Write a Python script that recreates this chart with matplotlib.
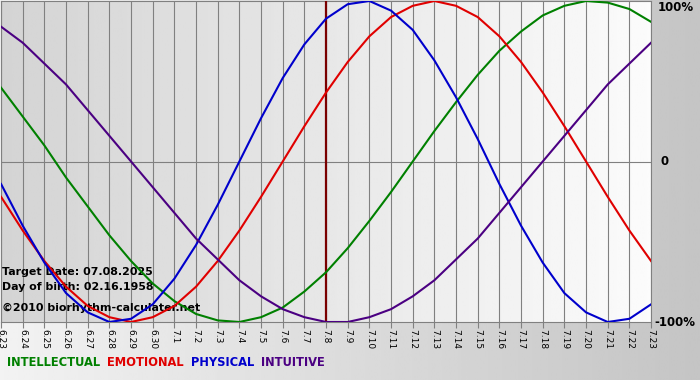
import matplotlib
matplotlib.use('Agg')
import matplotlib.pyplot as plt
import numpy as np

# one tick per day, 6.23 .. 7.23
day_labels = ['6.23', '6.24', '6.25', '6.26', '6.27', '6.28', '6.29', '6.30',
              '7.1', '7.2', '7.3', '7.4', '7.5', '7.6', '7.7', '7.8', '7.9', '7.10',
              '7.11', '7.12', '7.13', '7.14', '7.15', '7.16', '7.17', '7.18', '7.19',
              '7.20', '7.21', '7.22', '7.23']

# values, -1 .. 1
intellectual = [0.46, 0.28, 0.10, -0.10, -0.28, -0.46, -0.62, -0.76, -0.87, -0.95, -0.99,
                -1.00, -0.97, -0.91, -0.81, -0.69, -0.54, -0.37, -0.19, 0.00, 0.19, 0.37,
                0.54, 0.69, 0.81, 0.91, 0.97, 1.00, 0.99, 0.95, 0.87]
emotional = [-0.22, -0.43, -0.62, -0.78, -0.90, -0.97, -1.00, -0.97, -0.90, -0.78, -0.62,
             -0.43, -0.22, 0.00, 0.22, 0.43, 0.62, 0.78, 0.90, 0.97, 1.00, 0.97, 0.90,
             0.78, 0.62, 0.43, 0.22, 0.00, -0.22, -0.43, -0.62]
physical = [-0.14, -0.40, -0.63, -0.82, -0.94, -1.00, -0.98, -0.89, -0.73, -0.52, -0.27,
            0.00, 0.27, 0.52, 0.73, 0.89, 0.98, 1.00, 0.94, 0.82, 0.63, 0.40, 0.14,
            -0.14, -0.40, -0.63, -0.82, -0.94, -1.00, -0.98, -0.89]
intuitive = [0.84, 0.74, 0.61, 0.48, 0.32, 0.16, 0.00, -0.16, -0.32, -0.48, -0.61, -0.74,
             -0.84, -0.92, -0.97, -1.00, -1.00, -0.97, -0.92, -0.84, -0.74, -0.61, -0.48,
             -0.32, -0.16, 0.00, 0.16, 0.32, 0.48, 0.61, 0.74]

target_label = '7.8'
y_labels = ['100%', '0', '-100%']

series = [
    ('INTELLECTUAL', intellectual, '#008000'),
    ('EMOTIONAL', emotional, '#e00000'),
    ('PHYSICAL', physical, '#0000cc'),
    ('INTUITIVE', intuitive, '#4b0082'),
]

plt.rcParams['font.family'] = 'DejaVu Sans'

fig = plt.figure(figsize=(7, 3.8), dpi=100)

# grey gradient behind everything
bg = fig.add_axes([0, 0, 1, 1])
bg.imshow(np.linspace(0.95, 0.77, 256)[None, :], cmap='gray', vmin=0, vmax=1,
          aspect='auto', extent=[0, 1, 0, 1])
bg.set_axis_off()
bg.set_zorder(-10)

ax = fig.add_axes([0.0015, 58 / 380, 650 / 700, 321 / 380])
ax.patch.set_visible(False)
x = np.arange(len(day_labels))
ax.imshow(np.linspace(0.83, 0.985, 256)[None, :], cmap='gray', vmin=0, vmax=1,
          aspect='auto', extent=[x[0], x[-1], -1, 1], zorder=0)

for xi in x:
    ax.axvline(xi, color='#808080', lw=0.8, zorder=1)
ax.axhline(0, color='#808080', lw=0.8, zorder=1)

ax.axvline(day_labels.index(target_label), color='#7a0000', lw=1.6, zorder=3)

ax.text(0.05, -0.69, 'Target Date: 07.08.2025', fontsize=7.9, fontweight='bold', va='center', zorder=2)
ax.text(0.05, -0.785, 'Day of birth: 02.16.1958', fontsize=7.9, fontweight='bold', va='center', zorder=2)
ax.text(0.05, -0.915, '\u00a92010 biorhythm-calculater.net', fontsize=7.9, fontweight='bold', va='center', zorder=2)

for name, vals, color in series:
    ax.plot(x, vals, color=color, lw=1.5, zorder=4)

ax.set_xlim(x[0], x[-1])
ax.set_ylim(-1, 1)
ax.set_xticks(x)
ax.set_xticklabels(day_labels)
ax.tick_params(axis='x', labelrotation=270, labelsize=6.5, length=4, color='#808080', pad=1)
ax.set_yticks([])
for side in ['left', 'right', 'top', 'bottom']:
    ax.spines[side].set_color('#808080')
    ax.spines[side].set_linewidth(0.8)

ax.text(1.01, 1.0, y_labels[0], transform=ax.transAxes, fontsize=8.5, fontweight='bold', va='top', ha='left')
ax.text(1.015, 0.5, y_labels[1], transform=ax.transAxes, fontsize=8.5, fontweight='bold', va='center', ha='left')
ax.text(1.005, 0.0, y_labels[2], transform=ax.transAxes, fontsize=8.5, fontweight='bold', va='center', ha='left')

# coloured legend words along the bottom
xpos = 7
for name, vals, color in series:
    t = fig.text(xpos / 700, 1 - 362 / 380, name, color=color, fontsize=8.3,
                 fontweight='bold', va='center', ha='left')
    fig.canvas.draw()
    xpos = t.get_window_extent().x1 + 7

fig.savefig('out.png', dpi=100)
